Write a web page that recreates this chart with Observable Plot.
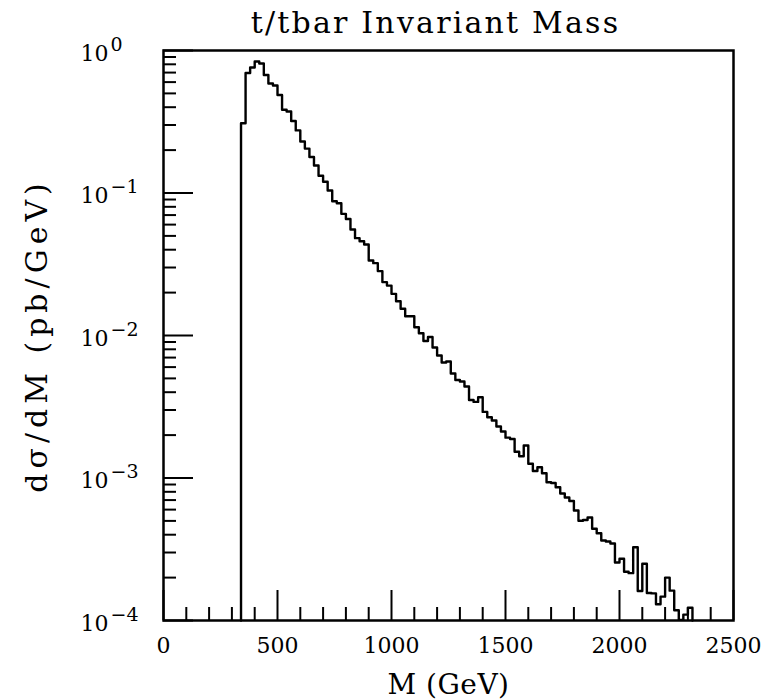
<!DOCTYPE html>
<html>
<head>
<meta charset="utf-8">
<script src="https://cdn.jsdelivr.net/npm/d3@7"></script>
<script src="https://cdn.jsdelivr.net/npm/@observablehq/plot@0.6"></script>
<style>
  html, body { margin: 0; padding: 0; background: #fff; }
</style>
</head>
<body>
<div id="chart"></div>
<script>
// ---- data ----
const title = "t/tbar Invariant Mass";
const xLabel = "M (GeV)";
const yLabel = "dσ/dM (pb/GeV)";
const binStart = 340;      // GeV, first bin lower edge
const binWidth = 20;       // GeV
// dσ/dM (pb/GeV) per 20 GeV bin
const binValues = [
  0.309, 0.695, 0.760, 0.837, 0.810, 0.673, 0.587, 0.568, 0.487, 0.384,
  0.373, 0.320, 0.275, 0.230, 0.205, 0.179, 0.156, 0.132, 0.120, 0.104,
  0.0876, 0.0848, 0.0714, 0.0657, 0.0554, 0.0482, 0.0459, 0.0435, 0.0336, 0.0322,
  0.0283, 0.0237, 0.0224, 0.0196, 0.0174, 0.0154, 0.01366, 0.01366, 0.01143, 0.01038,
  0.00915, 0.00976, 0.00824, 0.00724, 0.00646, 0.00657, 0.00541, 0.00487, 0.00476, 0.00439,
  0.00353, 0.00342, 0.00369, 0.00291, 0.00267, 0.00253, 0.00230, 0.00212, 0.00192, 0.00188,
  0.00153, 0.00142, 0.00169, 0.00126, 0.00112, 0.00119, 0.00108, 0.000934, 0.000922, 0.000862,
  0.000778, 0.000730, 0.000690, 0.000591, 0.000501, 0.000507, 0.000528, 0.000440, 0.000410, 0.000364,
  0.000358, 0.000347, 0.000255, 0.000271, 0.000220, 0.000215, 0.000327, 0.000161, 0.000250, 0.000156,
  0.000155, 0.000130, 0.000147, 0.000200, 0.000162, 0.000118, 0.000101, 0.000110, 0.000123
];
const xDomain = [0, 2500];
const yDomain = [1e-4, 1];
const xTickLabels = [0, 500, 1000, 1500, 2000, 2500];
const xMinorTicks = [100,200,300,400,600,700,800,900,1100,1200,1300,1400,1600,1700,1800,1900,2100,2200,2300,2400];
const yMajorTicks = [1e-4, 1e-3, 1e-2, 1e-1, 1];
const yExponents = ["−4", "−3", "−2", "−1", "0"];
const yMinorMult = [2, 3, 4, 5, 6, 7, 8, 9];

// ---- derived tables ----
const steps = [];
steps.push({x: binStart, y: yDomain[0]});
binValues.forEach((v, i) => {
  steps.push({x: binStart + i * binWidth, y: v});
  steps.push({x: binStart + (i + 1) * binWidth, y: v});
});
steps.push({x: binStart + binValues.length * binWidth, y: yDomain[0]});

const yMinorTicks = yMajorTicks.slice(0, -1).flatMap(p => yMinorMult.map(m => m * p));
const yTickTable = yMajorTicks.map((v, i) => ({v, e: yExponents[i]}));

const font = "DejaVu Serif";
const W = 767, H = 700;
const mL = 163, mR = 34, mT = 50, mB = 80;
const frameW = W - mL - mR, frameH = H - mT - mB;

const chart = Plot.plot({
  width: W,
  height: H,
  marginLeft: mL,
  marginRight: mR,
  marginTop: mT,
  marginBottom: mB,
  style: {fontFamily: font, background: "#fff", color: "#000"},
  x: {domain: xDomain, axis: null},
  y: {type: "log", domain: yDomain, axis: null},
  marks: [
    // minor / major ticks inside the frame
    Plot.ruleX(xMinorTicks, {x: d => d, insetTop: frameH - 13, stroke: "#000", strokeWidth: 2}),
    Plot.ruleX(xTickLabels, {x: d => d, insetTop: frameH - 30, stroke: "#000", strokeWidth: 2}),
    Plot.ruleY(yMinorTicks, {y: d => d, insetRight: frameW - 13, stroke: "#000", strokeWidth: 2}),
    Plot.ruleY(yMajorTicks, {y: d => d, insetRight: frameW - 30, stroke: "#000", strokeWidth: 2}),
    // histogram outline
    Plot.line(steps, {x: "x", y: "y", stroke: "#000", strokeWidth: 2.4, curve: "linear"}),
    Plot.frame({stroke: "#000", strokeWidth: 2.5}),
    // x tick labels
    Plot.text(xTickLabels, {x: d => d, frameAnchor: "bottom", lineAnchor: "middle", dy: 25, text: d => String(d), fontSize: 22, fill: "#000"}),
    // y tick labels: "10" + exponent
    Plot.text(yTickTable, {y: "v", frameAnchor: "left", lineAnchor: "middle", dx: -83, dy: 3, text: () => "10", textAnchor: "start", fontSize: 22, fill: "#000"}),
    Plot.text(yTickTable, {y: "v", frameAnchor: "left", lineAnchor: "middle", dx: -53, dy: -6, text: "e", textAnchor: "start", fontSize: 19, fill: "#000"}),
    // title and axis labels
    Plot.text([title], {className: "ttl", frameAnchor: "top", lineAnchor: "middle", dy: -27, dx: -13, text: d => d, fontSize: 30, fill: "#000"}),
    Plot.text([xLabel], {className: "xlab", frameAnchor: "bottom", lineAnchor: "middle", dy: 65, text: d => d, fontSize: 28, fill: "#000"}),
    Plot.text([yLabel], {className: "ylab", frameAnchor: "left", textAnchor: "middle", lineAnchor: "middle", dx: -126, dy: 0, rotate: -90, text: d => d, fontSize: 30, fill: "#000"})
  ]
});
d3.select(chart).selectAll(".ttl text").attr("letter-spacing", "2.2px");
d3.select(chart).selectAll(".xlab text").attr("letter-spacing", "0.5px");
d3.select(chart).selectAll(".ylab text").attr("letter-spacing", "5px");
document.getElementById("chart").appendChild(chart);
</script>
</body>
</html>
